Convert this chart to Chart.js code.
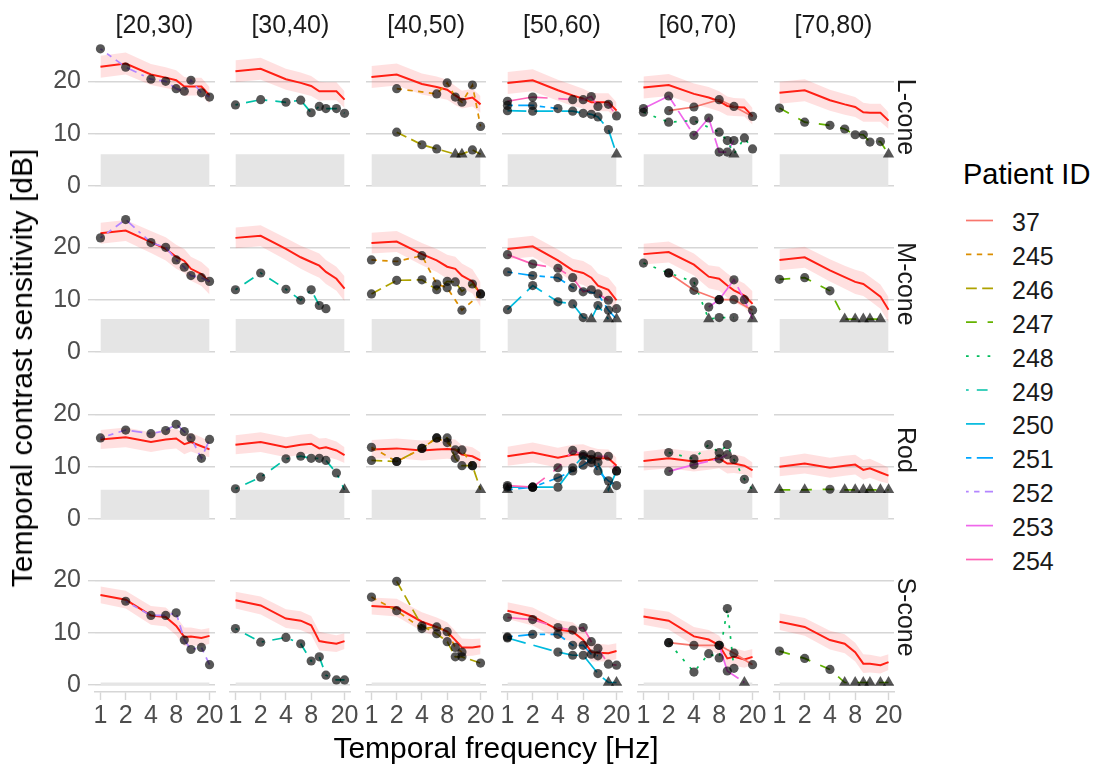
<!DOCTYPE html>
<html>
<head>
<meta charset="utf-8">
<script src="https://cdn.jsdelivr.net/npm/chart.js@4.4.1/dist/chart.umd.min.js"></script>
<style>
html,body{margin:0;padding:0;background:#fff;}
#page{position:relative;width:1099px;height:768px;overflow:hidden;font-family:"Liberation Sans",Arial,sans-serif;}
.panel{position:absolute;}
.txt{position:absolute;white-space:nowrap;line-height:1;}
</style>
</head>
<body>
<div id="page"></div>
<script>
// ── DATA ──
const FREQ = [1, 2, 4, 6, 8, 10, 12, 16, 20];
const X_TICKS = [1, 2, 4, 8, 20];
const Y_TICKS = [0, 10, 20];
const AGE_GROUPS = ['[20,30)', '[30,40)', '[40,50)', '[50,60)', '[60,70)', '[70,80)'];
const CONDITIONS = ['L-cone', 'M-cone', 'Rod', 'S-cone'];
const PATIENT_IDS = ['37', '245', '246', '247', '248', '249', '250', '251', '252', '253', '254'];
const FLOOR = [6.1, 6.3, 5.6, 0.5];   // measurement floor per condition (grey band)
const T = 'floor';                     // value at floor (drawn as triangle)

// normative mean per age group (rows) over FREQ
const NORM_L = [
  [22.8, 23.4, 21.3, 20.7, 20.2, 19.0, 19.0, 19.0, 17.3],
  [21.9, 22.4, 20.4, 19.7, 19.1, 18.1, 18.1, 18.1, 16.5],
  [20.8, 21.3, 19.5, 18.9, 18.4, 17.3, 16.5, 16.9, 15.6],
  [19.7, 20.2, 18.3, 17.3, 16.7, 16.0, 16.0, 16.0, 14.4],
  [18.8, 19.3, 17.6, 16.9, 16.2, 15.3, 15.1, 15.0, 13.3],
  [17.8, 18.3, 16.4, 15.6, 15.1, 14.1, 14.0, 14.0, 12.5]
];
const NORM_M = [
  [22.7, 23.2, 21.0, 19.7, 18.2, 17.4, 15.9, 14.9, 13.4],
  [21.8, 22.2, 19.7, 18.1, 17.2, 16.5, 15.3, 14.0, 12.1],
  [20.8, 21.1, 18.7, 17.5, 16.3, 15.9, 14.6, 13.5, 11.0],
  [19.7, 20.2, 17.5, 15.6, 15.1, 14.2, 12.7, 11.9, 9.9],
  [18.7, 19.1, 16.7, 14.4, 14.0, 12.7, 11.8, 10.8, 9.2],
  [17.6, 18.1, 15.6, 14.3, 13.4, 13.0, 12.1, 10.6, 8.1]
];
const NORM_R = [
  [15.2, 15.6, 14.7, 15.2, 15.4, 14.3, 14.7, 13.9, 13.3],
  [14.2, 14.7, 13.7, 14.2, 14.4, 13.5, 13.7, 13.1, 12.2],
  [13.3, 13.5, 13.1, 13.3, 13.4, 13.3, 12.3, 12.0, 11.2],
  [12.0, 12.7, 11.7, 12.3, 12.4, 11.8, 11.6, 11.6, 10.2],
  [11.1, 11.6, 11.0, 11.3, 11.6, 10.6, 10.6, 10.2, 9.3],
  [10.0, 10.6, 9.8, 10.2, 10.4, 9.4, 9.7, 8.9, 8.3]
];
const NORM_S = [
  [17.2, 16.3, 13.3, 13.0, 11.3, 9.2, 9.3, 9.0, 9.4],
  [16.2, 15.2, 12.7, 12.3, 11.4, 8.4, 8.2, 7.9, 8.4],
  [15.1, 14.8, 12.1, 11.1, 10.2, 8.6, 7.2, 7.2, 7.4],
  [14.2, 13.1, 10.6, 10.2, 8.6, 6.3, 6.2, 6.1, 6.5],
  [13.1, 12.3, 9.3, 8.7, 7.6, 5.1, 5.4, 4.9, 5.4],
  [12.1, 11.1, 8.6, 7.9, 6.3, 4.1, 4.1, 3.8, 4.4]
];

// normative SD (ribbon half width) over FREQ
const SD_L = [2.1, 2.1, 2.0, 2.0, 1.9, 1.8, 1.7, 1.7, 1.6];
const SD_M = [2.0, 2.0, 2.1, 2.2, 2.3, 2.3, 2.3, 2.3, 2.4];
const SD_R = [1.8, 1.9, 1.9, 1.9, 1.9, 1.9, 1.8, 1.7, 1.5];
const SD_S = [1.6, 1.7, 1.8, 1.8, 1.8, 1.8, 1.7, 1.6, 1.5];

// patients per age group: [id, values over FREQ]
const PAT_L = [
  [['252', [26.2, 22.7, 20.4, 20.0, 18.6, 18.1, 20.2, 17.8, 17.0]]],
  [['249', [15.5, 16.5, 16.0, 16.4, 14.0, 15.2, 14.8, 14.8, 13.9]]],
  [['245', [null, 18.6, null, 17.6, 19.7, 17.0, 16.0, 19.3, 11.4]],
   ['246', [null, 10.3, 7.9, 7.1, null, T, T, 6.9, T]]],
  [['254', [16.2, 17.0, null, 16.5, 16.5, 17.1, 15.2, 15.6, 13.4]],
   ['251', [15.4, 15.4, 14.8, null, null, null, null, null, null]],
   ['250', [14.4, 14.3, null, 14.3, 13.9, 13.7, 13.2, 10.8, T]]],
  [['37',  [null, 14.4, 15.1, null, 16.5, null, 15.2, null, 13.3]],
   ['248', [14.1, 12.2, 12.5, null, 10.3, 8.7, T, 9.2, 7.1]],
   ['253', [14.8, 17.2, 9.7, 13.0, 6.5, 6.5, 8.7, null, null]]],
  [['247', [14.9, 12.2, 11.6, 10.9, 9.8, 9.8, 8.4, 8.5, T]]]
];
const PAT_M = [
  [['252', [21.8, 25.3, 20.9, 20.0, 17.6, 16.2, 14.6, 14.2, 13.5]]],
  [['249', [11.9, 15.1, 12.0, 9.9, 11.9, 8.9, 8.3, null, null]]],
  [['245', [17.6, 17.3, 18.4, 13.0, 12.3, null, 8.0, null, 11.1]],
   ['246', [11.1, 13.7, 13.8, 11.9, 13.5, 13.4, 11.6, 13.0, 11.1]]],
  [['254', [18.6, 16.8, 16.0, 14.2, 11.5, 11.9, null, 9.9, 8.3]],
   ['251', [15.3, 14.6, 14.2, 12.3, null, null, 11.1, 8.0, T]],
   ['250', [8.1, 12.7, 9.6, 9.2, 6.6, T, 8.9, T, null]]],
  [['37',  [null, 15.1, 11.8, null, 10.0, null, 10.0, null, 8.0]],
   ['248', [17.0, 15.1, 13.4, T, 6.6, null, 6.6, null, null]],
   ['253', [null, null, null, 8.6, 10.0, null, 13.8, 10.0, T]]],
  [['247', [13.9, 14.2, 11.7, T, T, T, T, T, null]]]
];
const PAT_R = [
  [['252', [15.5, 17.0, 16.3, 16.9, 18.1, 16.7, 15.5, 11.6, 15.2]]],
  [['249', [5.8, 8.0, 11.5, 12.0, 11.6, 11.6, 11.2, 8.8, T]]],
  [['245', [13.7, 11.0, 13.5, 15.5, 14.6, 13.2, 13.2, 10.2, null]],
   ['246', [11.2, 11.0, 13.5, 15.5, 15.5, 11.6, 10.2, 10.2, T]]],
  [['254', [6.4, 6.1, 9.8, 13.1, 12.3, 12.3, 12.0, 12.0, 9.2]],
   ['251', [T, 6.1, 7.9, 9.2, 10.3, 11.4, 9.2, 7.3, 6.4]],
   ['250', [6.1, 6.1, 6.1, 9.8, 12.0, 10.8, 10.8, T, 9.2]]],
  [['248', [null, 12.7, 11.5, 14.2, 12.7, 14.2, 11.4, 7.6, T]],
   ['253', [null, 9.1, 10.4, null, 11.5, 12.3, null, null, null]]],
  [['247', [T, T, 5.7, T, T, T, T, T, T]]]
];
const PAT_S = [
  [['252', [null, 16.0, 13.3, 13.3, 13.8, 8.6, 6.8, 7.2, 3.9]]],
  [['249', [10.8, 8.2, 9.1, 7.9, 4.6, 5.4, 1.9, 1.0, 1.0]]],
  [['245', [16.8, 14.2, 10.8, 11.1, 10.2, 7.2, 6.3, null, null]],
   ['246', [null, 19.8, 11.3, 9.8, 8.3, 5.4, 5.4, null, 4.2]]],
  [['254', [12.9, 12.5, 11.0, 10.5, 11.0, 8.3, 7.0, 4.0, 3.8]],
   ['251', [9.2, 9.7, 9.7, 7.6, 7.6, 5.9, 5.6, null, null]],
   ['250', [9.0, null, 6.3, 5.7, 5.7, null, 2.2, T, T]]],
  [['37',  [null, 8.1, 7.6, null, 7.6, null, 6.1, null, 3.9]],
   ['248', [null, 8.1, 2.5, 6.0, 5.2, 14.6, 3.2, null, null]],
   ['253', [null, null, null, null, 7.6, 2.7, null, T, null]]],
  [['247', [6.5, 5.1, 3.0, T, T, T, T, T, T]]]
];

// ── STYLE ──
const COLORS = ['#F8766D','#DB8E00','#AEA200','#64B200','#00BD5C','#00C1A7','#00BADE','#00A6FF','#B385FF','#EF67EB','#FF63B6'];
const DASHES = [[], [2,2], [4,2], [4,4], [1,3], [1,3,4,3], [7,3], [2,2,6,2], [1,2,2,2,3,2,4,2], [15,2,8,2], [15,4,4,4,8,4,4,4]];
const DASH_UNIT = 2.7;
const FONT = '"Liberation Sans", Arial, sans-serif';
const GRID_C = '#d6d6d6';
const TICK_C = '#4d4d4d';

// ── LAYOUT ──
const PANEL_X0 = 94.5, PANEL_DX = 135.8, PANEL_W = 120;
const PANEL_Y0 = 41.6, PANEL_DY = 166.5, PANEL_H = 151;
const X_MIN = 0.861, X_MAX = 23.23;
const Y_MIN = -1.31, Y_MAX = 27.5;
const PAD = 10;

const ALL_NORM = [NORM_L, NORM_M, NORM_R, NORM_S];
const ALL_SD = [SD_L, SD_M, SD_R, SD_S];
const ALL_PAT = [PAT_L, PAT_M, PAT_R, PAT_S];

const page = document.getElementById('page');

function addText(str, cx, cy, size, color, rot) {
  const d = document.createElement('div');
  d.className = 'txt';
  d.textContent = str;
  d.style.fontSize = size + 'px';
  d.style.color = color;
  d.style.left = cx + 'px';
  d.style.top = cy + 'px';
  d.style.transform = 'translate(-50%,-50%)' + (rot ? ` rotate(${rot}deg)` : '');
  page.appendChild(d);
  return d;
}

// ── PANELS ──
function buildPanel(r, c) {
  const floor = FLOOR[r];
  const norm = ALL_NORM[r][c];
  const sd = ALL_SD[r];
  const leftAxis = c === 0 ? 62 : 0;
  const bottomAxis = r === 3 ? 42 : 0;

  const ds = [];
  ds.push({ data: [{x: FREQ[0], y: floor}, {x: FREQ[FREQ.length - 1], y: floor}],
            fill: 'origin', backgroundColor: '#e5e5e5', borderWidth: 0, pointRadius: 0, order: 5 });
  const upIdx = ds.length;
  ds.push({ data: FREQ.map((f, i) => ({x: f, y: norm[i] + sd[i]})),
            borderWidth: 0, pointRadius: 0, fill: false, order: 4 });
  ds.push({ data: FREQ.map((f, i) => ({x: f, y: norm[i] - sd[i]})),
            borderWidth: 0, pointRadius: 0, fill: {target: upIdx}, backgroundColor: 'rgba(255,0,0,0.12)', order: 4 });
  ds.push({ data: FREQ.map((f, i) => ({x: f, y: norm[i]})),
            borderColor: '#ff1f14', borderWidth: 2, pointRadius: 0, fill: false, order: 3 });

  const pts = [];
  ALL_PAT[r][c].forEach(([id, vals]) => {
    const k = PATIENT_IDS.indexOf(id);
    const line = [];
    vals.forEach((v, i) => {
      if (v === null) return;
      const tri = v === T;
      const p = {x: FREQ[i], y: tri ? floor : v, tri};
      line.push(p);
      pts.push(p);
    });
    ds.push({ data: line, borderColor: COLORS[k], borderWidth: 1.7,
              borderDash: DASHES[k].map(d => d * DASH_UNIT),
              pointRadius: 0, fill: false, order: 2 });
  });
  ds.push({ data: pts, showLine: false, clip: false, order: 0,
            pointStyle: ctx => (ctx.raw && ctx.raw.tri) ? 'triangle' : 'circle',
            pointRadius: ctx => (ctx.raw && ctx.raw.tri) ? 6.5 : 4.6,
            pointBackgroundColor: 'rgba(0,0,0,0.66)', pointBorderWidth: 0 });

  const w = PANEL_W + 2 * PAD + leftAxis;
  const h = PANEL_H + 2 * PAD + bottomAxis;
  const wrap = document.createElement('div');
  wrap.className = 'panel';
  wrap.style.left = (PANEL_X0 + c * PANEL_DX - PAD - leftAxis) + 'px';
  wrap.style.top = (PANEL_Y0 + r * PANEL_DY - PAD) + 'px';
  const cv = document.createElement('canvas');
  cv.width = w; cv.height = h;
  cv.style.width = w + 'px'; cv.style.height = h + 'px';
  wrap.appendChild(cv);
  page.appendChild(wrap);

  new Chart(cv, {
    type: 'line',
    data: { datasets: ds },
    options: {
      animation: false, responsive: false, devicePixelRatio: 1, events: [],
      layout: { padding: PAD, autoPadding: false },
      plugins: { legend: { display: false }, tooltip: { enabled: false } },
      scales: {
        x: {
          type: 'logarithmic', min: X_MIN, max: X_MAX, display: r === 3,
          afterBuildTicks: s => { s.ticks = X_TICKS.map(v => ({value: v})); },
          afterFit: s => { s.height = bottomAxis; s.paddingLeft = 0; s.paddingRight = 0; },
          grid: { drawOnChartArea: false, drawTicks: true, tickLength: 8, tickColor: GRID_C, tickWidth: 1.4 },
          border: { display: true, color: GRID_C, width: 1.4 },
          ticks: { color: TICK_C, font: { family: FONT, size: 25 }, padding: 1,
                   maxRotation: 0, autoSkip: false, callback: v => String(v) }
        },
        y: {
          type: 'linear', min: Y_MIN, max: Y_MAX,
          afterBuildTicks: s => { s.ticks = Y_TICKS.map(v => ({value: v})); },
          afterFit: s => { s.width = leftAxis; s.paddingTop = 0; s.paddingBottom = 0; },
          grid: { color: GRID_C, lineWidth: 1.4, drawTicks: c === 0, tickLength: 7 },
          border: { display: false },
          ticks: { display: c === 0, color: TICK_C, font: { family: FONT, size: 25 }, padding: 7,
                   callback: v => String(v) }
        }
      }
    }
  });
}

for (let r = 0; r < CONDITIONS.length; r++)
  for (let c = 0; c < AGE_GROUPS.length; c++) buildPanel(r, c);

// ── STRIPS & TITLES ──
AGE_GROUPS.forEach((g, c) => addText(g, PANEL_X0 + c * PANEL_DX + PANEL_W / 2, 24, 25, '#1a1a1a'));
CONDITIONS.forEach((cond, r) => addText(cond, 906, PANEL_Y0 + r * PANEL_DY + PANEL_H / 2, 25, '#1a1a1a', 90));
addText('Temporal contrast sensitivity [dB]', 22, 368, 30, '#000', -90);
addText('Temporal frequency [Hz]', 496, 748, 30, '#000');

// ── LEGEND ──
const lt = addText('Patient ID', 0, 174, 29, '#000');
lt.style.transform = 'translate(0,-50%)';
lt.style.left = '963px';
const KEY_Y0 = 220.5, KEY_DY = 33.9;
const lc = document.createElement('canvas');
lc.width = 40; lc.height = 400;
lc.style.position = 'absolute'; lc.style.left = '960px'; lc.style.top = '200px';
page.appendChild(lc);
const lctx = lc.getContext('2d');
PATIENT_IDS.forEach((id, k) => {
  const y = KEY_Y0 + k * KEY_DY;
  lctx.strokeStyle = COLORS[k];
  lctx.lineWidth = 1.7;
  lctx.setLineDash(DASHES[k].map(d => d * DASH_UNIT));
  lctx.beginPath();
  lctx.moveTo(6, y - 200);
  lctx.lineTo(33, y - 200);
  lctx.stroke();
  const t = addText(id, 0, y + 1.5, 25, '#1a1a1a');
  t.style.transform = 'translate(0,-50%)';
  t.style.left = '1012px';
});
</script>
</body>
</html>
